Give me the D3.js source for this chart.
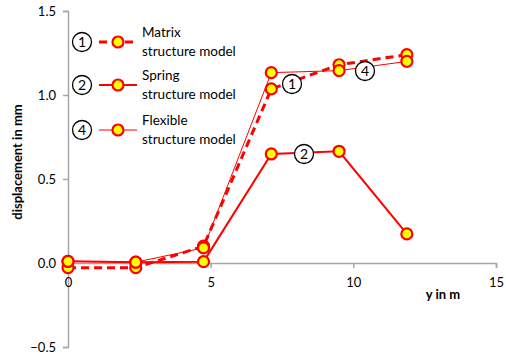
<!DOCTYPE html>
<html>
<head>
<meta charset="utf-8">
<script src="https://cdn.jsdelivr.net/npm/d3@7/dist/d3.min.js"></script>
<style>
  html, body { margin: 0; padding: 0; background: #fff; }
  svg { display: block; font-family: Lato, "Open Sans", sans-serif; }
</style>
</head>
<body>
<svg id="chart" width="506" height="357"></svg>
<script>
// Storey heights y (m) and horizontal displacements (mm)
const heights = [0, 2.375, 4.75, 7.125, 9.5, 11.875];
const matrixModel = [-0.028, -0.028, 0.10, 1.036, 1.18, 1.24];
const springModel = [0.01, 0.005, 0.008, 0.649, 0.665, 0.173];
const flexibleModel = [0.01, 0.005, 0.09, 1.133, 1.145, 1.20];

const xTicks = [0, 5, 10, 15];
const yTicks = [-0.5, 0, 0.5, 1.0, 1.5];

const seriesList = [
  { key: "1", name: ["Matrix", "structure model"], values: matrixModel, width: 3, dash: "8,5",
    tag: { x: 292, y: 84 } },
  { key: "2", name: ["Spring", "structure model"], values: springModel, width: 2, dash: null,
    tag: { x: 304, y: 154 } },
  { key: "4", name: ["Flexible", "structure model"], values: flexibleModel, width: 1, dash: null,
    tag: { x: 365, y: 71 } }
];

const svg = d3.select("#chart");
const x = d3.scaleLinear().domain([0, 15]).range([68, 496]);
const y = d3.scaleLinear().domain([-0.5, 1.5]).range([347, 11]);
const axisColor = "#a6a6a6";

// Y axis
const yAxis = svg.append("g").attr("transform", `translate(${x(0)},0)`)
  .call(d3.axisLeft(y).tickValues(yTicks).tickSize(5).tickPadding(7)
    .tickFormat(d3.format(".1f")));
yAxis.select(".domain").attr("stroke", axisColor).attr("stroke-width", 1.5);
yAxis.selectAll(".tick line").attr("stroke", axisColor).attr("stroke-width", 1.5);
yAxis.selectAll(".tick text").attr("font-size", 13).attr("fill", "#000")
  .attr("font-family", "Lato, sans-serif");

// X axis at zero
const xAxis = svg.append("g").attr("transform", `translate(0,${y(0)})`)
  .call(d3.axisBottom(x).tickValues(xTicks).tickSize(5).tickPadding(10)
    .tickFormat(d3.format("d")));
xAxis.select(".domain").attr("stroke", axisColor).attr("stroke-width", 1.5);
xAxis.selectAll(".tick line").attr("stroke", axisColor).attr("stroke-width", 1.5);
xAxis.selectAll(".tick text").attr("font-size", 13).attr("fill", "#000")
  .attr("font-family", "Lato, sans-serif");

// Axis titles
svg.append("text")
  .attr("transform", "translate(22,162) rotate(-90)")
  .attr("text-anchor", "middle")
  .attr("font-size", 13).attr("font-weight", "bold")
  .text("displacement in mm");
svg.append("text")
  .attr("x", 443).attr("y", 299)
  .attr("text-anchor", "middle")
  .attr("font-size", 13).attr("font-weight", "bold")
  .text("y in m");

// Series lines and markers
const line = d3.line().x((d, i) => x(heights[i])).y(d => y(d));
seriesList.forEach(s => {
  svg.append("path").datum(s.values)
    .attr("d", line).attr("fill", "none")
    .attr("stroke", "#ff0000").attr("stroke-width", s.width)
    .attr("stroke-dasharray", s.dash);
});
seriesList.forEach(s => {
  svg.append("g").selectAll("circle").data(s.values).join("circle")
    .attr("cx", (d, i) => x(heights[i])).attr("cy", d => y(d))
    .attr("r", 5.5).attr("fill", "#ffff00")
    .attr("stroke", "#ff0000").attr("stroke-width", 2.2);
});

// Circled series numbers
function circledNumber(g, cx, cy, label, fill) {
  g.append("circle").attr("cx", cx).attr("cy", cy).attr("r", 9.5)
    .attr("fill", fill).attr("stroke", "#000").attr("stroke-width", 1.3);
  g.append("text").attr("x", cx).attr("y", cy + 5)
    .attr("text-anchor", "middle").attr("font-size", 14)
    .attr("font-family", "Lato, sans-serif").text(label);
}
seriesList.forEach(s => circledNumber(svg, s.tag.x, s.tag.y, s.key, "#fff"));

// Legend
const legendRows = [42, 85, 130];
seriesList.forEach((s, i) => {
  const ly = legendRows[i];
  const g = svg.append("g");
  circledNumber(g, 82, ly, s.key, "none");
  g.append("line").attr("x1", 99).attr("x2", 137).attr("y1", ly).attr("y2", ly)
    .attr("stroke", "#ff0000").attr("stroke-width", s.width)
    .attr("stroke-dasharray", s.dash);
  g.append("circle").attr("cx", 118).attr("cy", ly).attr("r", 5.5)
    .attr("fill", "#ffff00").attr("stroke", "#ff0000").attr("stroke-width", 2.2);
  g.append("text").attr("x", 142).attr("y", ly - 5).attr("font-size", 13.5)
    .text(s.name[0]);
  g.append("text").attr("x", 142).attr("y", ly + 14).attr("font-size", 13.5)
    .text(s.name[1]);
});
</script>
</body>
</html>
